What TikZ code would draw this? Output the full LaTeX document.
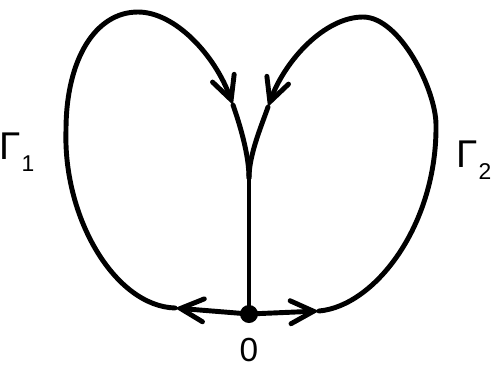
\documentclass[tikz,border=0pt]{standalone}
\usepackage{fontspec}
\setmainfont{Liberation Sans}
\usetikzlibrary{arrows.meta}

\tikzset{
  loop line/.style={line width=2.8pt,line cap=round,line join=round},
  loop arrow/.style={loop line,-{Straight Barb[length=4.6mm,width=4.6mm,line cap=round]}},
  gamma label/.style={inner sep=0pt,font=\fontsize{22}{24}\selectfont}
}
\newcommand{\gammasub}[1]{Γ\kern0.02em\raisebox{-0.3em}{\fontsize{13}{13}\selectfont #1}}

\begin{document}
\begin{tikzpicture}[x=0.02cm,y=-0.02cm]
\useasboundingbox (0,0) rectangle (492,366);

% origin, fork and arrow points
\node (O) at (249,314) [circle,fill,inner sep=0pt,minimum size=3.6mm]{};
\node (Olabel) at (249,361) [anchor=base,inner sep=0pt] {\fontsize{19}{21}\selectfont 0};
\coordinate (fork) at (249,178);
\coordinate (l1) at (175,308);
\coordinate (l2) at (233,105);
\coordinate (r1) at (319,311);
\coordinate (r2) at (268,107);

% stem
\draw[loop line] (O.center) -- (fork);

% left loop
\draw[loop arrow] (O.center) -- (l1);
\draw[loop arrow] (l1) .. controls (115,306) and (63,218) .. (66,130)
  .. controls (66,60) and (95,12) .. (138,12)
  .. controls (175,12) and (215,55) .. (l2);
\draw[loop line] (l2) .. controls (240,125) and (249,155) .. (fork);

% right loop
\draw[loop arrow] (O.center) -- (r1);
\draw[loop arrow] (r1) .. controls (375,306) and (437,225) .. (436,125)
  .. controls (436,90) and (400,17) .. (363,17)
  .. controls (325,17) and (285,60) .. (r2);
\draw[loop line] (r2) .. controls (261,127) and (249,155) .. (fork);

% labels
\node[gamma label] (G1) at (17,152) {\gammasub{1}};
\node[gamma label] (G2) at (474,160) {\gammasub{2}};

\end{tikzpicture}
\end{document}
